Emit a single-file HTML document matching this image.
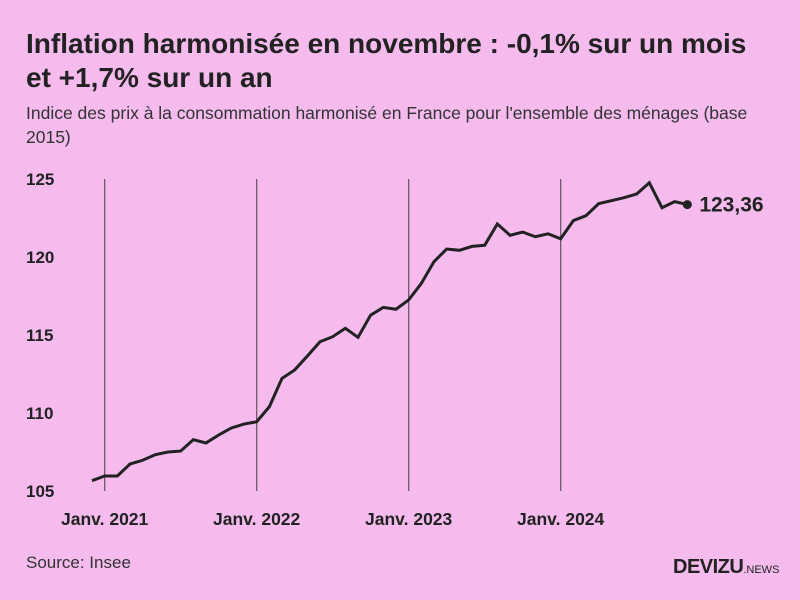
<!DOCTYPE html>
<html><head><meta charset="utf-8"><style>
body{margin:0;width:800px;height:600px;background:#f4bbec;font-family:"Liberation Sans",sans-serif;color:#222;overflow:hidden;position:relative}
.t{position:absolute;left:26px;top:27px;font-size:28px;font-weight:bold;line-height:34px;width:750px}
.s{position:absolute;left:26px;top:101px;font-size:17.5px;line-height:24px;color:#333;width:750px}
.src{position:absolute;left:26px;top:553px;font-size:17px;color:#333}
.logo{position:absolute;left:673px;top:556px;font-size:20px;font-weight:900;letter-spacing:-0.5px}
.logo span{font-size:11px;font-weight:normal;letter-spacing:0}
svg{position:absolute;left:0;top:0}
</style></head><body>
<div class="t">Inflation harmonisée en novembre : -0,1% sur un mois<br>et +1,7% sur un an</div>
<div class="s">Indice des prix à la consommation harmonisé en France pour l'ensemble des ménages (base 2015)</div>
<svg id="c" width="800" height="600"></svg>
<div class="src">Source: Insee</div>
<div class="logo">DEVIZU<span>.NEWS</span></div>
<script>
const values=[105.66,105.96,105.96,106.73,106.97,107.33,107.5,107.56,108.29,108.08,108.59,109.04,109.29,109.44,110.4,112.22,112.76,113.65,114.57,114.89,115.43,114.85,116.28,116.77,116.65,117.25,118.31,119.7,120.51,120.43,120.68,120.75,122.12,121.39,121.6,121.3,121.49,121.17,122.33,122.65,123.42,123.61,123.8,124.04,124.76,123.16,123.55,123.36];
const yTicks=[105,110,115,120,125];
const xTickLabels=["Janv. 2021","Janv. 2022","Janv. 2023","Janv. 2024"];
const xTickIdx=[1,13,25,37];
const lastLabel="123,36";
const NS="http://www.w3.org/2000/svg";
const svg=document.getElementById('c');
const x=i=>92+(i)*152/12;
const y=v=>491-(v-105)*15.6;
function mk(t,a){const e=document.createElementNS(NS,t);for(const k in a)e.setAttribute(k,a[k]);svg.appendChild(e);return e;}
yTicks.forEach(v=>{const t=mk('text',{x:26,y:y(v)+6,'font-size':17,'font-weight':'bold',fill:'#222'});t.textContent=v;

});
xTickIdx.forEach((idx,k)=>{const l=mk('line',{x1:x(idx),x2:x(idx),y1:179,y2:491,stroke:'#6e5a6c','stroke-width':1.3});


const t=mk('text',{x:x(idx),y:525,'font-size':17.5,'font-weight':'bold',fill:'#222','text-anchor':'middle'});t.textContent=xTickLabels[k];

});
const p=mk('polyline',{points:values.map((v,i)=>x(i)+','+y(v)).join(' '),fill:'none',stroke:'#222','stroke-width':3,'stroke-linejoin':'miter'});


const n=values.length-1;
const d=mk('circle',{cx:x(n),cy:y(values[n]),r:4.5,fill:'#222'});


const lt=mk('text',{x:x(n)+12,y:y(values[n])+7,'font-size':21,'font-weight':'bold',fill:'#222'});lt.textContent=lastLabel;


</script>
</body></html>
